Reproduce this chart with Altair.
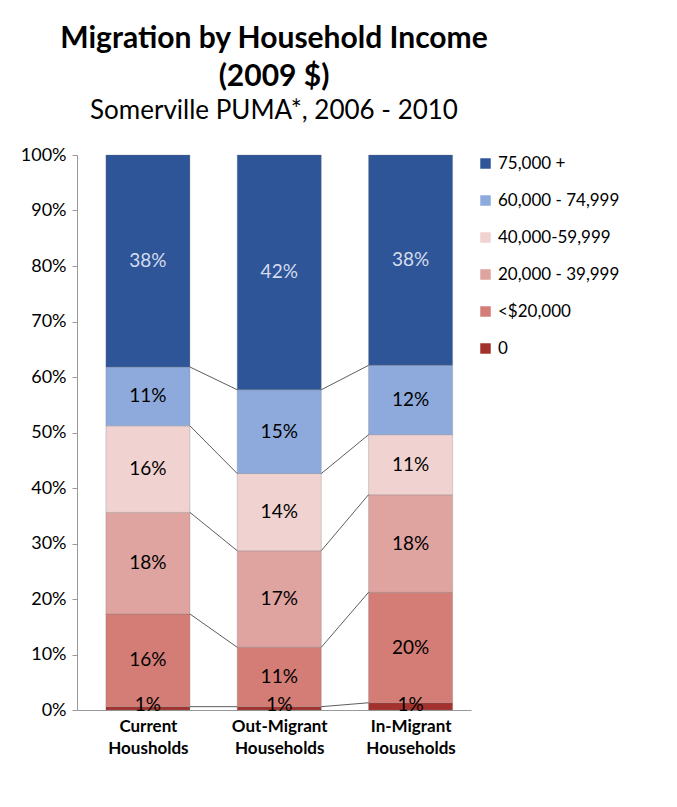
import altair as alt
import pandas as pd

groups = ["Current Housholds", "Out-Migrant Households", "In-Migrant Households"]
brackets = ["0", "<$20,000", "20,000 - 39,999", "40,000-59,999", "60,000 - 74,999", "75,000 +"]
colors = ["#A3322E", "#D47C76", "#DFA3A0", "#F0D3D0", "#8EAADC", "#2E5597"]
current = [0.6, 16.7, 18.3, 15.6, 10.6, 38.2]
out_migrant = [0.6, 10.7, 17.4, 13.9, 15.1, 42.3]
in_migrant = [1.3, 19.9, 17.6, 10.8, 12.5, 37.9]
labels = [["1%", "16%", "18%", "16%", "11%", "38%"],
          ["1%", "11%", "17%", "14%", "15%", "42%"],
          ["1%", "20%", "18%", "11%", "12%", "38%"]]

rows = []
for gi, vals in enumerate([current, out_migrant, in_migrant]):
    base = 0.0
    for bi, v in enumerate(vals):
        rows.append(dict(group=groups[gi], gi=gi, bracket=brackets[bi], order=bi,
                         x=gi + 0.22, x2=gi + 0.86, y=base, y2=base + v,
                         mid=max(base + v / 2, 0.9), label=labels[gi][bi]))
        base += v
df = pd.DataFrame(rows)

# connector lines between the tops of matching segments
links = []
for gi in range(2):
    a = df[df.gi == gi].reset_index()
    b = df[df.gi == gi + 1].reset_index()
    for bi in range(5):
        links.append(dict(x=gi + 0.86, x2=gi + 1.22, y=a.y2[bi], y2=b.y2[bi]))
links = pd.DataFrame(links)

font = "Lato"
xscale = alt.Scale(domain=[0, 3], nice=False)
yscale = alt.Scale(domain=[0, 100], nice=False)

bars = alt.Chart(df).mark_rect(stroke="#777", strokeWidth=0.3).encode(
    x=alt.X("x:Q", scale=xscale, title=None,
            axis=alt.Axis(values=[0.54, 1.54, 2.54], grid=False, ticks=False,
                          labelExpr="split(['Current Housholds','Out-Migrant Households','In-Migrant Households'][floor(datum.value)], ' ')",
                          labelFontSize=17, labelFontWeight="bold", labelColor="black",
                          labelFont=font, domainColor="#999", labelPadding=8, labelLineHeight=22)),
    x2="x2:Q",
    y=alt.Y("y:Q", scale=yscale, title=None,
            axis=alt.Axis(values=list(range(0, 101, 10)), labelExpr="datum.value + '%'",
                          grid=False, labelFontSize=18, labelColor="black", labelFont=font,
                          domainColor="#999", tickColor="#999", labelPadding=6)),
    y2="y2:Q",
    color=alt.Color("bracket:N", scale=alt.Scale(domain=brackets[::-1], range=colors[::-1]),
                    legend=alt.Legend(title=None, symbolType="square", symbolSize=110,
                                      labelFontSize=17, labelFont=font, labelColor="black",
                                      rowPadding=19, offset=6, symbolStrokeWidth=0)),
)

lines = alt.Chart(links).mark_rule(color="#333", strokeWidth=0.8).encode(
    x=alt.X("x:Q", scale=xscale), x2="x2:Q",
    y=alt.Y("y:Q", scale=yscale), y2="y2:Q",
)

text = alt.Chart(df).mark_text(fontSize=19, font=font).encode(
    x=alt.X("xm:Q", scale=xscale),
    y=alt.Y("mid:Q", scale=yscale),
    text="label:N",
    color=alt.condition("datum.order == 5", alt.value("#D5DCEE"), alt.value("black")),
).transform_calculate(xm="(datum.x + datum.x2) / 2")

chart = alt.layer(bars, lines, text).properties(
    width=394, height=555,
    title=alt.Title(["Migration by Household Income", "(2009 $)"],
                    subtitle="Somerville PUMA*, 2006 - 2010",
                    fontSize=30, font=font, fontWeight="bold", color="black", lineHeight=38,
                    subtitleFontSize=26, subtitleFont=font, subtitleColor="black",
                    subtitlePadding=6, anchor="middle", offset=22),
    padding={"left": 12, "top": 16, "right": 5, "bottom": 5},
).configure_view(stroke=None).configure_legend(orient="right")

chart.save("out.html", embed_options={"renderer": "svg", "actions": False})
